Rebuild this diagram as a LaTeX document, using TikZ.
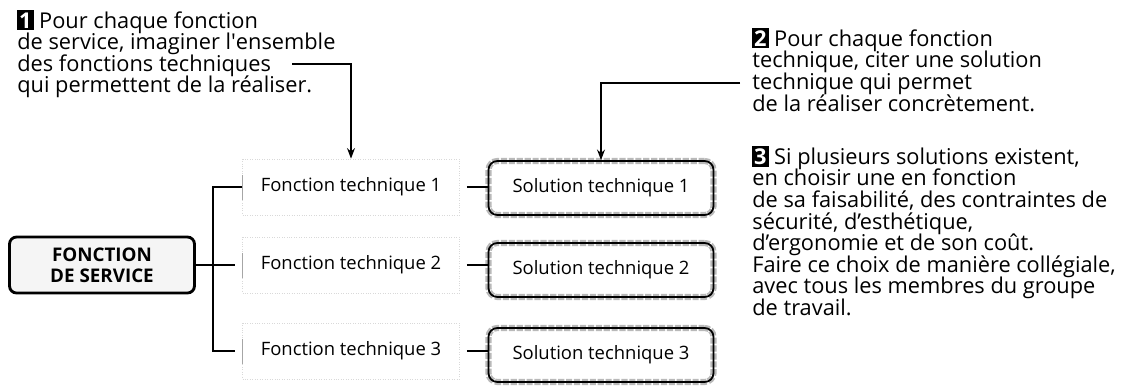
\documentclass[tikz,border=0pt]{standalone}
\usepackage{fontspec}
\setmainfont{Open Sans}
\usetikzlibrary{arrows.meta,positioning}

% numbered black square at the start of each note
\newcommand{\stepnum}[1]{{\setlength{\fboxsep}{1.2pt}\colorbox{black}{\makebox[0.55em]{\color{white}\bfseries #1}}}}
% tight line spacing for the notes
\newcommand{\notefont}{\fontsize{12.4}{12.3}\selectfont\setlength{\lineskiplimit}{-6pt}}

\begin{document}
\begin{tikzpicture}[x=0.02cm, y=-0.02cm, >={Stealth[length=6pt,width=4.5pt]},
  note/.style={align=left, inner sep=0pt, anchor=north west, font=\notefont},
  service/.style={draw, line width=1.6pt, rounded corners=4pt, fill=gray!8,
                  minimum width=3.7cm, minimum height=1.12cm, align=center,
                  font=\fontsize{10.7}{12}\selectfont\bfseries},
  techbox/.style={draw=gray!30, densely dotted, minimum width=4.34cm,
                  minimum height=1.12cm, font=\fontsize{10.5}{12}\selectfont},
  solbox/.style={draw, line width=1pt, rounded corners=5pt,
                 preaction={draw=gray!55, line width=3.5pt, densely dotted},
                 minimum width=4.5cm, minimum height=1.08cm,
                 font=\fontsize{10.5}{12}\selectfont},
  link/.style={line width=0.8pt}]
\useasboundingbox (0,0) rectangle (1139,390);

% ---- notes ----
\node[note] (note1) at (17, 10)
  {\stepnum{1} Pour chaque fonction\\de service, imaginer l\textquotesingle ensemble\\des fonctions techniques\\qui permettent de la réaliser.};
\node[note] (note2) at (752, 28)
  {\stepnum{2} Pour chaque fonction\\technique, citer une solution\\technique qui permet\\de la réaliser concrètement.};
\node[note] (note3) at (752, 146)
  {\stepnum{3} Si plusieurs solutions existent,\\en choisir une en fonction\\de sa faisabilité, des contraintes de\\sécurité, d’esthétique,\\d’ergonomie et de son coût.\\Faire ce choix de manière collégiale,\\avec tous les membres du groupe\\de travail.};

% ---- tree ----
\node[service] (service) at (102, 265) {FONCTION\\DE SERVICE};
\coordinate (trunk) at (213, 265);

\node[techbox] (ft1) at (351, 187) {Fonction technique 1};
\node[techbox] (ft2) at (351, 265) {Fonction technique 2};
\node[techbox] (ft3) at (351, 351) {Fonction technique 3};

\node[solbox] (sol1) at (601, 188) {Solution technique 1};
\node[solbox] (sol2) at (601, 270) {Solution technique 2};
\node[solbox] (sol3) at (601, 355) {Solution technique 3};

\foreach \i in {1,2,3} {
  \draw[gray!70, line width=0.6pt] ([yshift=-2.5mm]ft\i.west) -- ([yshift=2.5mm]ft\i.west);
  \draw[link, shorten <=4pt] (ft\i.east) -- (ft\i.east -| sol\i.west);
}
\draw[link, shorten >=4pt] (service.east) -- (ft2.west);
\draw[link, shorten >=4pt] (ft1.west) -| (trunk) |- (ft3.west);
\draw[link] (ft1.west) -- (ft1.west -| trunk);

% ---- pointers from the notes ----
\coordinate (from1) at (292, 64);
\coordinate (from2) at (740, 83);
\draw[link, ->] (from1) -| (ft1.north);
\draw[link, ->] (from2) -| (sol1.north);

\end{tikzpicture}
\end{document}
